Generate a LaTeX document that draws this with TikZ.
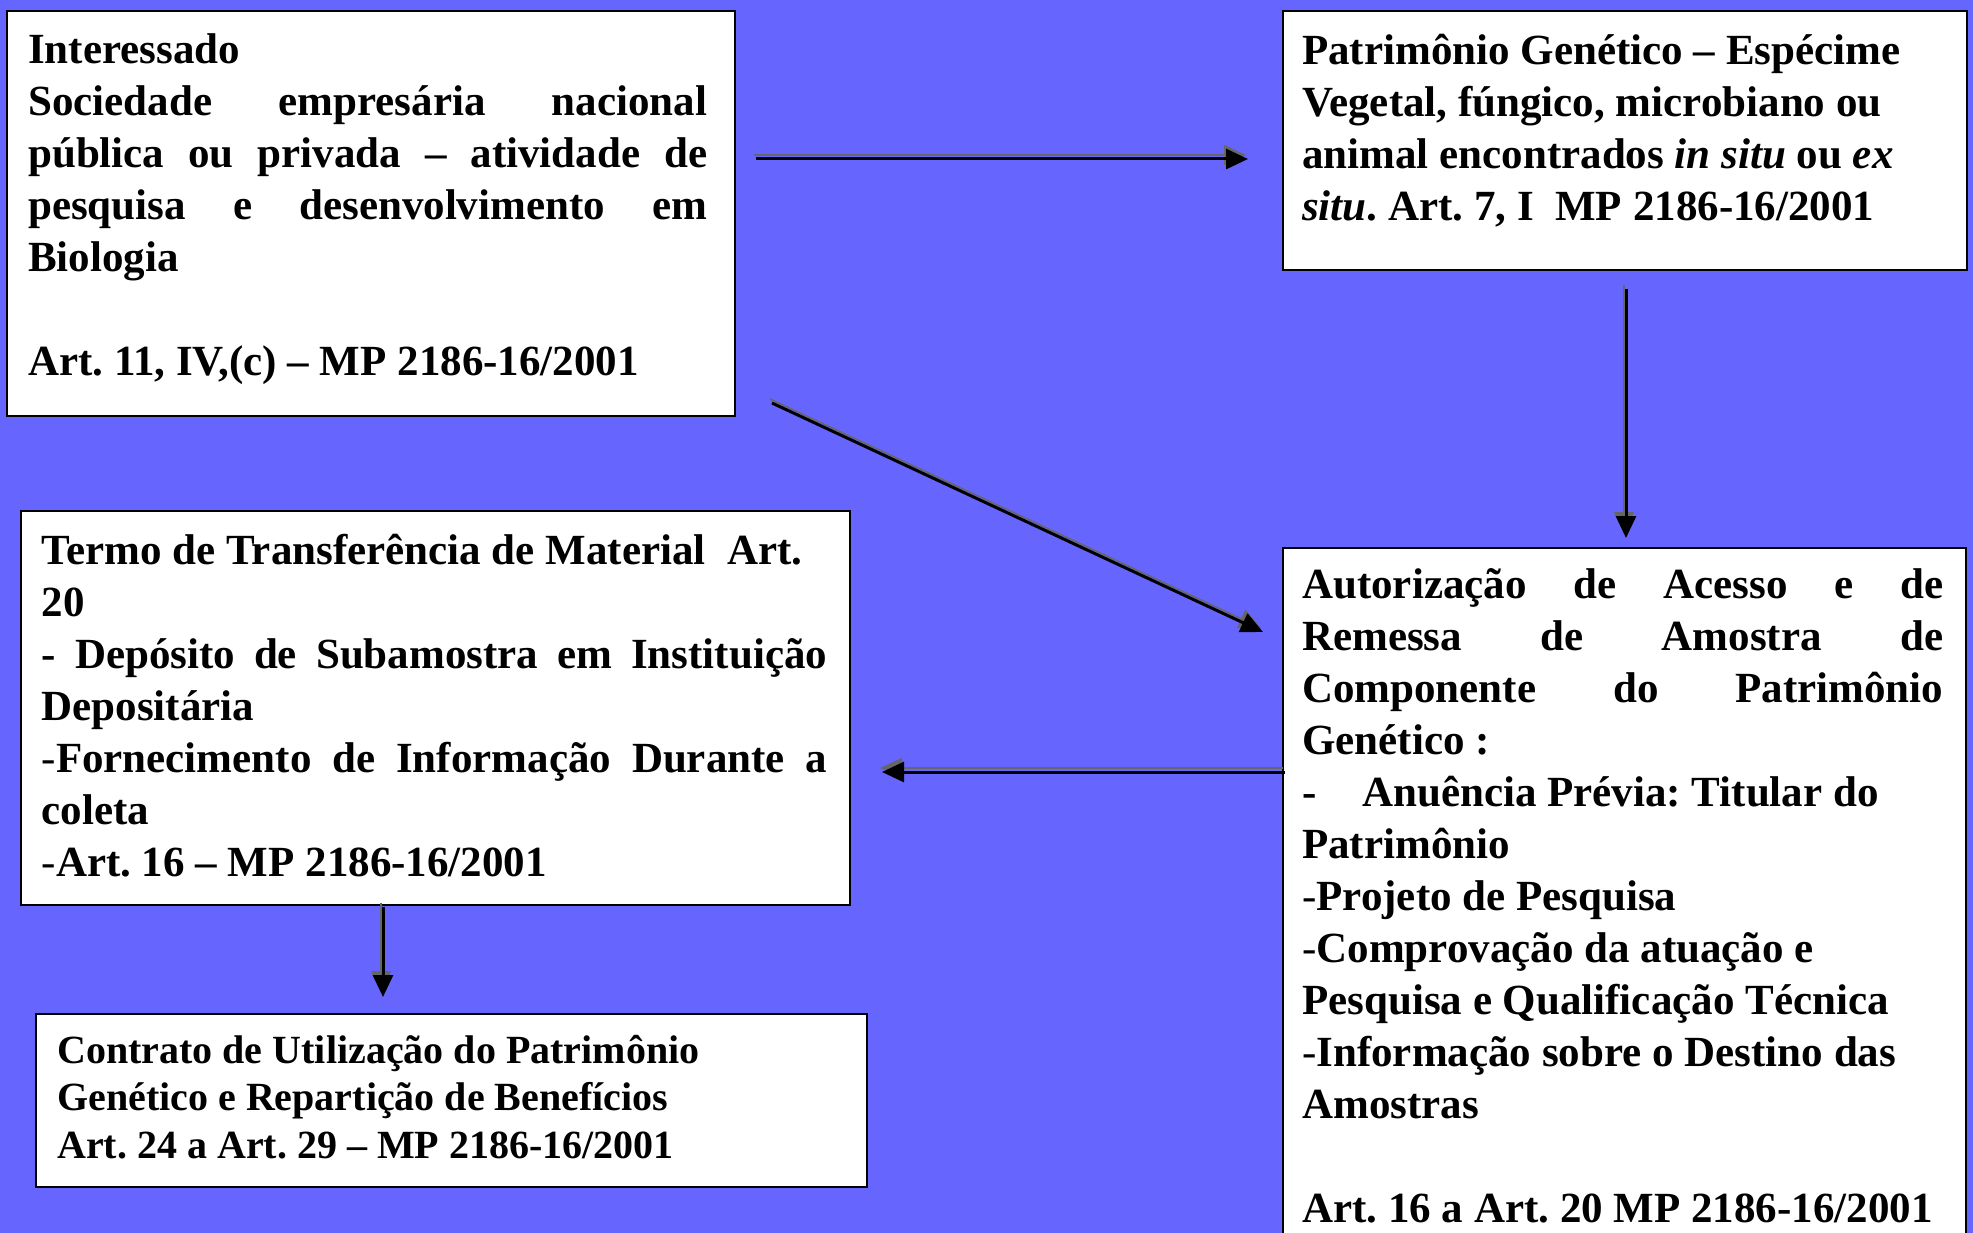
\documentclass[tikz,border=0pt]{standalone}
\usepackage{fontspec}
\setmainfont{Liberation Serif}
\usetikzlibrary{arrows.meta}
\definecolor{bg}{HTML}{6666FF}
\setlength{\parindent}{0pt}
\frenchspacing
\newcommand{\jl}[2]{\makebox[#1][s]{#2}}
\newcommand{\thin}{\textmd{-}}
\newcommand{\natsp}{\spaceskip=0pt\xspaceskip=0pt\frenchspacing}
\begin{document}
\begin{tikzpicture}[x=1pt,y=-1pt,
  box/.style={draw=black, line width=2pt, fill=white, rectangle, inner sep=0pt, anchor=north west},
  txt/.style={anchor=north west, inner sep=0pt, align=flush left, font=\bfseries\fontsize{43}{52}\selectfont\natsp},
  txtsmall/.style={anchor=north west, inner sep=0pt, align=flush left, font=\bfseries\fontsize{40}{47.5}\selectfont\natsp},
  conn/.style={draw=black, line width=3pt, -{Triangle[length=22pt,width=20pt]}},
  shad/.style={draw=black!60, line width=1.6pt, -{Triangle[length=22pt,width=20pt]}, transform canvas={shift={(-2pt,4pt)}}}
]
\fill[bg] (0,0) rectangle (1973,1233);
\useasboundingbox (0,0) rectangle (1973,1233);

% boxes
\node[box, minimum width=728pt, minimum height=405pt] (b1) at (6,10) {};
\node[box, minimum width=684pt, minimum height=259pt] (b2) at (1282,10) {};
\node[box, minimum width=683pt, minimum height=720pt] (b3) at (1282,547) {};
\node[box, minimum width=829pt, minimum height=394pt] (b4) at (20,510) {};
\node[box, minimum width=831pt, minimum height=173pt] (b5) at (35,1013) {};

% texts
\node[txt, text width=690pt] (t1) at (28,23) {\natsp\rule{0pt}{40pt}Interessado\\
\jl{679pt}{Sociedade empresária nacional}\\
\jl{679pt}{pública ou privada – atividade de}\\
\jl{679pt}{pesquisa e desenvolvimento em}\\
Biologia\\
\mbox{}\\
Art. 11, IV,(c) – MP 2186-16/2001};

\node[txt, text width=660pt] (t2) at (1302,24) {\natsp\rule{0pt}{40pt}Patrimônio Genético – Espécime\\
Vegetal, fúngico, microbiano ou\\
animal encontrados \textit{in situ} ou \textit{ex}\\
\textit{situ}. Art. 7, I\ \ MP 2186-16/2001};

\node[txt, text width=700pt] (t3) at (1302,558) {\natsp\rule{0pt}{40pt}\jl{641pt}{Autorização de Acesso e de}\\
\jl{641pt}{Remessa de Amostra de}\\
\jl{641pt}{Componente do Patrimônio}\\
Genético :\\
\makebox[60pt][l]{-}Anuência Prévia: Titular do\\
Patrimônio\\
\thin Projeto de Pesquisa\\
\thin Comprovação da atuação e\\
Pesquisa e Qualificação Técnica\\
\thin Informação sobre o Destino das\\
Amostras\\
\mbox{}\\
Art. 16 a Art. 20 MP 2186-16/2001};

\node[txt, text width=800pt] (t4) at (41.5,524) {\natsp\rule{0pt}{40pt}Termo de Transferência de Material\ \ Art.\\
20\\
\jl{785.5pt}{- Depósito de Subamostra em Instituição}\\
Depositária\\
\jl{785.5pt}{\thin Fornecimento de Informação Durante a}\\
coleta\\
\thin Art. 16 – MP 2186-16/2001};

\node[txtsmall, text width=790pt] (t5) at (57,1026) {\natsp\rule{0pt}{37pt}Contrato de Utilização do Patrimônio\\
Genético e Repartição de Benefícios\\
Art. 24 a Art. 29 – MP 2186-16/2001};

% connector end points
\coordinate (a1s) at (756,159);
\coordinate (a1e) at (1248,159);
\coordinate (a2s) at (772,403);
\coordinate (a2e) at (1263,632);
\coordinate (a3s) at (1626,289);
\coordinate (a3e) at (1626,538);
\coordinate (a4s) at (1285,772);
\coordinate (a4e) at (882,772);
\coordinate (a5s) at (383,907);
\coordinate (a5e) at (383,997);

% shadows
\draw[shad] (a1s) -- (a1e);
\draw[shad] (a2s) -- (a2e);
\draw[shad] (a3s) -- (a3e);
\draw[shad] (a4s) -- (a4e);
\draw[shad] (a5s) -- (a5e);
% connectors
\draw[conn] (a1s) -- (a1e);
\draw[conn] (a2s) -- (a2e);
\draw[conn] (a3s) -- (a3e);
\draw[conn] (a4s) -- (a4e);
\draw[conn] (a5s) -- (a5e);
\end{tikzpicture}
\end{document}
